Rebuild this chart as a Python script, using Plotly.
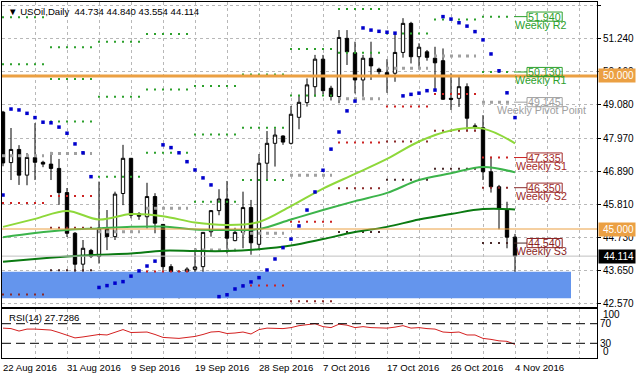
import plotly.graph_objects as go
import pandas as pd

# ---------------- DATA ----------------
# trading calendar of the broker (Sunday sessions included, no Saturdays)
calendar = [d.strftime("%Y-%m-%d") for d in pd.date_range("2016-08-15", "2016-11-30") if d.weekday() != 5]
first_bar = "2016-08-22"

opens = [48.82, 47.17, 47.60, 46.76, 47.33, 47.18, 47.12, 46.98, 46.19, 44.86,
         43.85, 44.30, 44.10, 45.03, 44.75, 46.16, 47.31, 45.50, 45.40, 46.06,
         45.15, 43.77, 43.60, 43.20, 43.68, 43.77, 44.91, 45.60, 45.98, 44.62,
         44.89, 45.70, 44.50, 47.15, 47.80, 48.04, 47.80, 48.65, 49.13, 49.65,
         50.55, 49.60, 49.33, 51.23, 50.76, 49.87, 50.58, 50.22, 50.11, 50.09,
         50.77, 51.72, 50.63, 50.79, 50.58, 50.50, 49.27, 49.27, 49.65, 48.37,
         48.31, 46.87, 46.38, 45.64, 44.734]
highs = [48.86, 48.30, 47.74, 47.48, 48.46, 47.23, 47.52, 47.29, 46.34, 44.90,
         44.64, 44.35, 46.55, 45.62, 46.22, 47.75, 47.31, 45.55, 46.51, 46.17,
         45.15, 43.85, 43.65, 43.75, 44.37, 44.90, 45.62, 46.30, 46.57, 45.04,
         46.22, 45.95, 47.45, 48.20, 48.28, 48.06, 49.02, 49.36, 49.92, 50.69,
         50.69, 49.68, 51.50, 51.50, 51.12, 50.69, 51.12, 50.27, 50.55, 51.39,
         51.89, 51.77, 51.07, 50.85, 50.955, 50.90, 50.09, 49.98, 49.76, 48.45,
         48.72, 47.36, 46.44, 45.89, 44.840]
lows = [47.05, 46.60, 46.44, 46.43, 46.60, 47.02, 46.60, 45.79, 44.74, 43.11,
        43.25, 44.05, 43.87, 44.31, 44.64, 45.78, 45.35, 45.30, 45.02, 44.86,
        43.55, 43.36, 42.73, 43.18, 43.22, 43.12, 44.75, 45.45, 44.20, 44.60,
        44.37, 44.16, 44.31, 46.60, 47.04, 47.75, 47.76, 48.26, 49.00, 49.32,
        49.40, 49.20, 49.11, 50.36, 49.43, 49.32, 49.87, 50.05, 49.45, 49.81,
        50.60, 50.41, 50.30, 50.50, 49.54, 49.22, 48.89, 48.99, 48.20, 48.25,
        46.60, 46.19, 44.99, 44.37, 43.554]
closes = [47.16, 47.60, 46.76, 47.34, 47.18, 47.12, 46.98, 46.19, 44.86, 43.85,
          44.37, 44.10, 45.03, 44.75, 46.14, 47.31, 45.45, 45.42, 46.06, 45.19,
          43.77, 43.60, 43.23, 43.69, 43.76, 44.89, 45.60, 45.98, 44.70, 44.89,
          45.70, 44.55, 47.15, 47.80, 48.07, 47.84, 48.75, 49.14, 49.71, 50.55,
          49.52, 49.33, 51.26, 50.79, 49.87, 50.58, 50.33, 50.14, 50.03, 50.77,
          51.72, 50.63, 50.94, 50.61, 50.43, 49.24, 49.24, 49.65, 48.62, 48.32,
          46.87, 46.38, 45.68, 44.734, 44.114]

# Parabolic SAR
sar = [46.11, 48.92, 48.89, 48.78, 48.64, 48.49, 48.47, 48.33, 48.13, 47.78,
       47.49, 46.71, 43.09, 43.15, 43.23, 43.28, 43.46, 43.63, 43.79, 43.95,
       47.75, 47.66, 47.49, 47.20, 46.93, 46.67, 46.44, 42.79, 42.85, 43.04,
       43.14, 43.27, 43.41, 43.66, 44.02, 44.39, 44.67, 45.10, 45.62, 46.21,
       46.92, 47.61, 48.17, 48.86, 49.18, 51.57, 51.50, 51.46, 51.43, 51.40,
       49.35, 49.40, 49.44, 49.52, 49.54, 51.94, 51.86, 51.74, 51.63, 51.45,
       51.18, 50.72, 50.17, 49.45, 48.64]

# RSI(14)
rsi = [61, 60, 55, 59, 59, 58, 57, 52, 47, 41,
       43, 45, 48, 47, 52, 58, 52, 52, 53, 48,
       42, 41, 40, 42, 44, 48, 53, 54, 50, 51,
       53, 49, 58, 61, 61, 60, 62, 66, 68, 70,
       64, 62, 69, 67, 62, 64, 62, 61, 61, 63,
       66, 61, 62, 60, 59, 53, 52, 53, 47, 47,
       40, 38, 35, 34, 27.7286]

# moving averages, read every 4th bar
ma_fast = [45.07, 45.33, 45.59, 45.31, 45.49, 45.42, 45.21, 45.13, 45.23,
           45.75, 46.32, 46.80, 47.29, 47.86, 48.22, 48.28, 47.80]
ma_mid = [44.73, 44.87, 44.97, 45.02, 45.07, 45.08, 44.98, 44.97, 45.00,
          45.31, 45.62, 45.91, 46.18, 46.60, 46.82, 47.03, 46.85]
ma_slow = [43.93, 44.02, 44.10, 44.16, 44.20, 44.29, 44.28, 44.28, 44.34,
           44.46, 44.67, 44.90, 45.07, 45.31, 45.49, 45.65, 45.64]

# weekly pivots (weeks Monday..Sunday)
week_mondays = ["2016-08-22", "2016-08-29", "2016-09-05", "2016-09-12", "2016-09-19", "2016-09-26",
                "2016-10-03", "2016-10-10", "2016-10-17", "2016-10-24", "2016-10-31"]
pivot_r3 = [54.91, 50.94, 51.12, 51.37, 49.67, 50.05, 53.48, 53.69, 53.78, 54.29, 52.925]
pivot_r2 = [51.92, 49.90, 49.32, 49.56, 48.09, 48.31, 50.88, 52.19, 52.64, 53.09, 51.94]
pivot_r1 = [50.38, 48.51, 46.71, 47.49, 45.89, 46.60, 49.36, 50.76, 51.39, 51.85, 50.13]
pivot_pp = [47.39, 47.47, 44.91, 45.68, 44.31, 44.86, 46.76, 49.26, 50.25, 50.65, 49.145]
pivot_s1 = [45.85, 46.08, 42.30, 43.61, 42.11, 43.15, 45.24, 47.83, 49.00, 49.41, 47.335]
pivot_s2 = [42.86, 45.04, 40.50, 41.80, 40.53, 41.41, 42.64, 46.33, 47.86, 48.21, 46.35]
pivot_s3 = [41.32, 43.65, 37.89, 39.73, 38.33, 39.70, 41.12, 44.90, 46.61, 46.97, 44.54]

# levels and zone
level_lines = [50.000, 45.000]
bid_price = 44.114
zone_top, zone_bottom = 43.60, 42.74
zone_start, zone_end = "2016-08-18", "2016-11-13"

date_labels = ["22 Aug 2016", "31 Aug 2016", "9 Sep 2016", "19 Sep 2016", "28 Sep 2016",
               "7 Oct 2016", "17 Oct 2016", "26 Oct 2016", "4 Nov 2016"]
date_label_days = ["2016-08-22", "2016-08-31", "2016-09-09", "2016-09-19", "2016-09-28",
                   "2016-10-07", "2016-10-17", "2016-10-26", "2016-11-04"]
price_ticks = [52.32, 51.24, 50.16, 49.08, 47.97, 46.89, 45.81, 44.73, 43.65, 42.57]

# ---------------- BUILD ----------------
base = calendar.index(first_bar)
def idx(day):
    return calendar.index(day) - base

n = len(closes)
xs = list(range(n))
ma_x = xs[::4]

FONT = "Liberation Sans, Arial, sans-serif"
GREEN = "#2ca02c"
GRAY = "#a0a0a0"
S1C, S2C, S3C = "#cc2222", "#8b2a2a", "#4a2a2a"
ORANGE = "#eba043"

fig = go.Figure()

# zone rectangle
zs, ze = idx(zone_start), idx(zone_end)
fig.add_trace(go.Scatter(x=[zs, ze, ze, zs, zs], y=[zone_bottom, zone_bottom, zone_top, zone_top, zone_bottom],
                         fill="toself", fillcolor="#6495ED", mode="lines", line=dict(width=0),
                         hoverinfo="skip", showlegend=False, xaxis="x", yaxis="y"))

# pivot dotted segments
def segments(vals):
    X, Y = [], []
    for k, mon in enumerate(week_mondays):
        m = idx(mon)
        x0 = m - 0.125
        x1 = min(m + 5.125, n - 1 - 0.125)
        X += [x0, x1, None]
        Y += [vals[k], vals[k], None]
    return X, Y

for vals, col, w, dash in [(pivot_r3, GREEN, 2, "2px,6px"), (pivot_r2, GREEN, 2, "2px,6px"),
                           (pivot_r1, GREEN, 2, "2px,6px"), (pivot_pp, GRAY, 3, "3px,5px"),
                           (pivot_s1, S1C, 2, "2px,6px"), (pivot_s2, S2C, 2, "2px,6px"),
                           (pivot_s3, S3C, 2, "2px,6px")]:
    X, Y = segments(vals)
    fig.add_trace(go.Scatter(x=X, y=Y, mode="lines", line=dict(color=col, width=w, dash=dash),
                             hoverinfo="skip", showlegend=False))

# moving averages
for vals, col in [(ma_fast, "#8ed83a"), (ma_mid, "#3cb44b"), (ma_slow, "#0b7a12")]:
    fig.add_trace(go.Scatter(x=ma_x, y=vals, mode="lines", line=dict(color=col, width=2, shape="spline"),
                             hoverinfo="skip", showlegend=False))

# parabolic SAR
fig.add_trace(go.Scatter(x=xs, y=sar, mode="markers",
                         marker=dict(symbol="square", size=3.5, color="#0000cc", line=dict(width=0)),
                         hoverinfo="skip", showlegend=False))

# candles
fig.add_trace(go.Candlestick(x=xs, open=opens, high=highs, low=lows, close=closes,
                             increasing=dict(line=dict(color="black", width=1), fillcolor="white"),
                             decreasing=dict(line=dict(color="black", width=1), fillcolor="black"),
                             whiskerwidth=0, hoverinfo="skip", showlegend=False))

# RSI
fig.add_trace(go.Scatter(x=xs, y=rsi, mode="lines", line=dict(color="#d42020", width=1),
                         hoverinfo="skip", showlegend=False, xaxis="x2", yaxis="y2"))

shapes = []
annotations = []

# horizontal levels
shapes.append(dict(type="line", xref="x domain", yref="y", x0=0, x1=1, y0=level_lines[0], y1=level_lines[0],
                   line=dict(color=ORANGE, width=3), layer="above"))
shapes.append(dict(type="line", xref="x domain", yref="y", x0=0, x1=1, y0=level_lines[1], y1=level_lines[1],
                   line=dict(color=ORANGE, width=1), layer="above"))
shapes.append(dict(type="line", xref="x domain", yref="y", x0=0, x1=1, y0=bid_price, y1=bid_price,
                   line=dict(color="#c0c0c0", width=1), layer="above"))
# RSI levels
for lv in (70, 30):
    shapes.append(dict(type="line", xref="x2 domain", yref="y2", x0=0, x1=1, y0=lv, y1=lv,
                       line=dict(color="black", width=1, dash="9px,5px"), layer="above"))

# current-week pivot labels
last = len(week_mondays) - 1
label_specs = [(pivot_r2[last], "Weekly R2", GREEN, GREEN),
               (pivot_r1[last], "Weekly R1", GREEN, GREEN),
               (pivot_pp[last], "Weekly Pivot Point", GRAY, GRAY),
               (pivot_s1[last], "Weekly S1", S1C, "#a52a2a"),
               (pivot_s2[last], "Weekly S2", S2C, "#9b2a2a"),
               (pivot_s3[last], "Weekly S3", S3C, "#8a1f1f")]
bx0, bx1 = n + 0.5, n + 4.9
for val, name, lc, tc in label_specs:
    shapes.append(dict(type="line", xref="x", yref="y", x0=n - 1 - 0.125, x1=bx0, y0=val, y1=val,
                       line=dict(color=lc, width=1)))
    shapes.append(dict(type="rect", xref="x", yref="y", x0=bx0, x1=bx1, y0=val - 0.15, y1=val + 0.15,
                       line=dict(color=tc, width=1)))
    annotations.append(dict(x=(bx0 + bx1) / 2, y=val, xref="x", yref="y", text=f"{val:.3f}", showarrow=False,
                            font=dict(family=FONT, size=10.7, color=tc), xanchor="center", yanchor="middle"))
    annotations.append(dict(x=(bx0 + bx1) / 2 - 0.4, y=val, yshift=-8, xref="x", yref="y", text=name,
                            showarrow=False, font=dict(family=FONT, size=10.7, color=tc),
                            xanchor="center", yanchor="middle"))

# right-axis price boxes
for val, bg in [(level_lines[0], ORANGE), (level_lines[1], ORANGE), (bid_price, "black")]:
    annotations.append(dict(xref="paper", x=1, xshift=1, xanchor="left", yref="y", y=val, yanchor="middle",
                            text=f"{val:.3f}", showarrow=False, bgcolor=bg, width=34, height=11,
                            align="right", borderpad=1,
                            font=dict(family=FONT, size=10, color="white")))

# titles
annotations.append(dict(xref="paper", yref="paper", x=0.006, y=0.972, xanchor="left", yanchor="middle",
                        text=f"▼ USOil,Daily  {opens[-1]:.3f} {highs[-1]:.3f} {lows[-1]:.3f} {closes[-1]:.3f}",
                        showarrow=False, font=dict(family=FONT, size=9.6, color="black")))
annotations.append(dict(xref="paper", yref="paper", x=0.008, y=0.115, xanchor="left", yanchor="middle",
                        text=f"RSI(14) {rsi[-1]:.4f}", showarrow=False,
                        font=dict(family=FONT, size=9.6, color="black")))
# RSI 100 / 0 labels
annotations.append(dict(xref="paper", x=1, xshift=4, xanchor="left", yref="y2", y=100, yshift=-5,
                        yanchor="middle", text="100", showarrow=False, font=dict(family=FONT, size=10, color="black")))
annotations.append(dict(xref="paper", x=1, xshift=4, xanchor="left", yref="y2", y=0, yshift=7,
                        yanchor="middle", text="0", showarrow=False, font=dict(family=FONT, size=10, color="black")))
# date labels
for lab, day in zip(date_labels, date_label_days):
    annotations.append(dict(xref="x2", yref="paper", x=idx(day), y=-0.028, xanchor="left", yanchor="middle",
                            xshift=-2, text=lab, showarrow=False,
                            font=dict(family=FONT, size=9.6, color="black")))

grid = dict(showgrid=True, gridcolor="#b8b8b8", griddash="3px,3px", gridwidth=1)
frame = dict(showline=True, linecolor="black", linewidth=1, mirror=True, zeroline=False)

fig.update_layout(
    width=636, height=379,
    margin=dict(l=2, r=39, t=2, b=21, autoexpand=False),
    paper_bgcolor="white", plot_bgcolor="white",
    showlegend=False, boxgap=0.4,
    font=dict(family=FONT, size=10, color="black"),
    xaxis=dict(domain=[0, 1], anchor="y", range=[-0.125, 74.25], tickmode="linear", tick0=0, dtick=4,
               showticklabels=False, ticks="", rangeslider=dict(visible=False), automargin=False,
               **grid, **frame),
    yaxis=dict(domain=[0.14326, 1], anchor="x", side="right", range=[42.451, 52.418],
               tickvals=price_ticks, ticktext=[f"{v:.3f}" for v in price_ticks],
               ticks="outside", ticklen=3, tickcolor="black", automargin=False,
               tickfont=dict(family=FONT, size=10, color="black"), **grid, **frame),
    xaxis2=dict(domain=[0, 1], anchor="y2", matches="x", range=[-0.125, 74.25], tickmode="linear", tick0=0,
                dtick=4, showticklabels=False, ticks="", rangeslider=dict(visible=False), automargin=False,
                **grid, **frame),
    yaxis2=dict(domain=[0, 0.13764], anchor="x2", side="right", range=[0, 100], tickvals=[70, 30],
                ticktext=["70", "30"], ticks="", showgrid=False, automargin=False,
                tickfont=dict(family=FONT, size=10, color="black"), **frame),
    shapes=shapes, annotations=annotations,
)

fig.write_html("out.html", config={"displayModeBar": False},
               post_script="document.body.style.margin='0';document.body.style.overflow='hidden';")
